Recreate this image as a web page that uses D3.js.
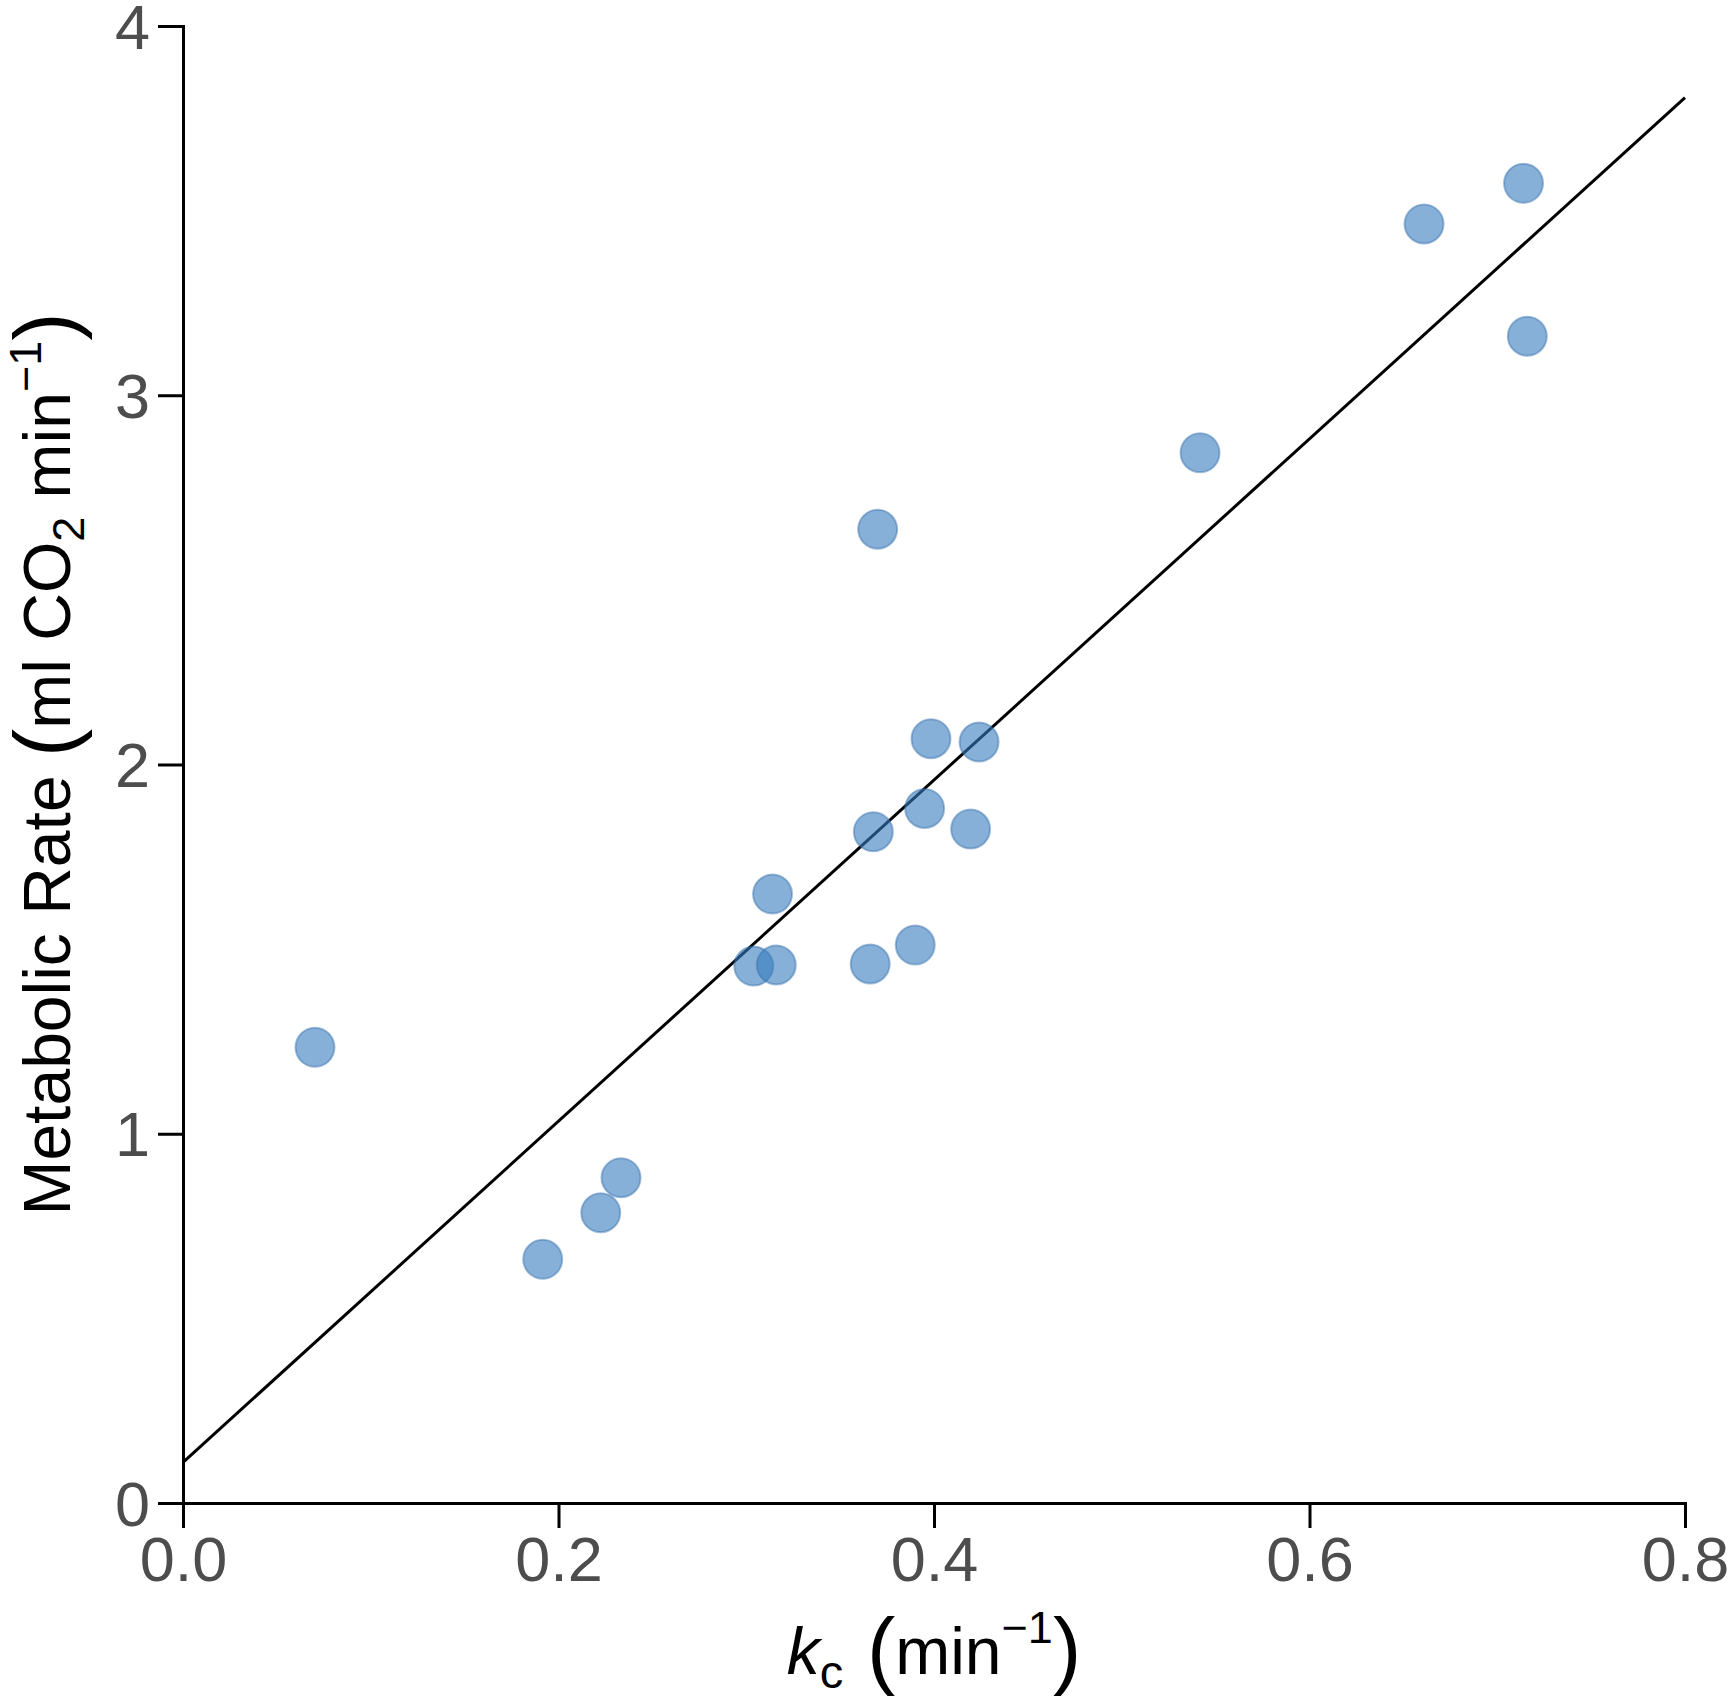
<!DOCTYPE html>
<html><head><meta charset="utf-8">
<script src="https://cdn.jsdelivr.net/npm/d3@7"></script>
<style>body{margin:0;background:#fff}svg{display:block}</style>
</head><body>
<script>
const kc = [0.0703,0.1916,0.2225,0.2333,0.304,0.316,0.314,0.366,0.3677,0.370,0.390,0.395,0.3984,0.4195,0.424,0.5417,0.661,0.714,0.716];
const rate = [1.234,0.660,0.786,0.881,1.454,1.457,1.649,1.460,1.818,2.637,1.511,1.881,2.070,1.825,2.061,2.844,3.464,3.574,3.160];
const fitIntercept = 0.11;
const fitSlope = 4.62;
const xTicks = [0,0.2,0.4,0.6,0.8];
const yTicks = [0,1,2,3,4];

const W=1736,H=1700;
const svg=d3.select("body").append("svg").attr("width",W).attr("height",H);
const x=d3.scaleLinear().domain([0,0.8]).range([183,1685]);
const y=d3.scaleLinear().domain([0,4]).range([1503,26]);
const font="'Liberation Sans', Arial, Helvetica, sans-serif";

// regression line
svg.append("line")
 .attr("x1",x(0)).attr("y1",y(fitIntercept))
 .attr("x2",x(0.8)).attr("y2",y(fitIntercept+fitSlope*0.8))
 .attr("stroke","#000").attr("stroke-width",3);

// points
svg.append("g").selectAll("circle").data(kc.map((v,i)=>[v,rate[i]])).join("circle")
 .attr("cx",d=>x(d[0])).attr("cy",d=>y(d[1])).attr("r",19.5)
 .attr("fill","rgb(53,123,190)").attr("fill-opacity",0.6)
 .attr("stroke","rgb(53,110,170)").attr("stroke-opacity",0.45).attr("stroke-width",2);

// axes
const xa=svg.append("g").attr("transform",`translate(0,${y(0)})`)
 .call(d3.axisBottom(x).tickValues(xTicks).tickFormat(d3.format(".1f")).tickSize(25).tickPadding(8));
const ya=svg.append("g").attr("transform",`translate(${x(0)},0)`)
 .call(d3.axisLeft(y).tickValues(yTicks).tickFormat(d3.format("d")).tickSize(25).tickPadding(8));
[xa,ya].forEach(a=>{
 a.select(".domain").attr("stroke","#000").attr("stroke-width",3);
 a.selectAll(".tick line").attr("stroke","#000").attr("stroke-width",3);
 a.selectAll(".tick text").attr("fill","#4d4d4d").style("font-family",font).style("font-size","63px");
});
xa.selectAll(".tick text").attr("dy","0.71em");
ya.selectAll(".tick text").attr("dy","0.35em");

// y title
const yt=svg.append("text").attr("transform","translate(70,764) rotate(-90)")
 .attr("text-anchor","middle").style("font-family",font).style("font-size","66px").attr("fill","#000");
yt.append("tspan").text("Metabolic Rate ");
yt.append("tspan").style("font-size","85px").attr("dy","4").text("(");
yt.append("tspan").attr("dy","-4").text("ml CO");
yt.append("tspan").style("font-size","45px").attr("dy","14").text("2");
yt.append("tspan").attr("dy","-14").text(" min");
yt.append("tspan").style("font-size","45px").attr("dy","-29").text("\u22121");
yt.append("tspan").style("font-size","85px").attr("dy","33").text(")");

// x title
const xt=svg.append("text").attr("x",934).attr("y",1674)
 .attr("text-anchor","middle").style("font-family",font).style("font-size","66px").attr("fill","#000");
xt.append("tspan").style("font-style","italic").text("k");
xt.append("tspan").style("font-size","47px").attr("dy","14").text("c");
xt.append("tspan").style("font-size","85px").attr("dy","-10").text(" (");
xt.append("tspan").attr("dy","-4").text("min");
xt.append("tspan").style("font-size","45px").attr("dy","-31").text("\u22121");
xt.append("tspan").style("font-size","85px").attr("dy","35").text(")");
</script>
</body></html>
